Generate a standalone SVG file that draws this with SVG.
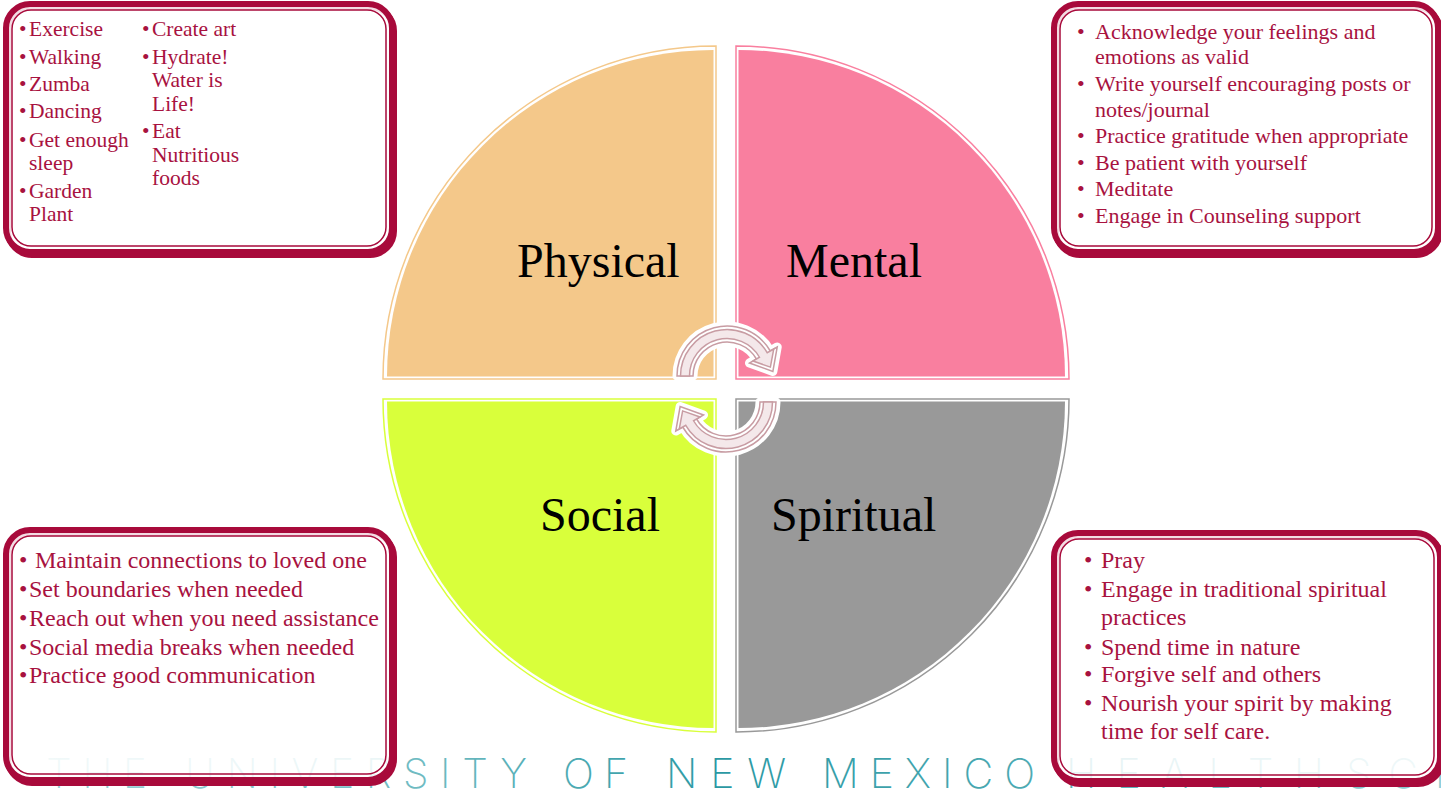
<svg xmlns="http://www.w3.org/2000/svg" width="1441" height="789" viewBox="0 0 1441 789">
<style>
.q-out{fill:none;stroke-width:1.5}
.lbl{font-family:"Liberation Serif","Times New Roman",serif;font-size:48px;fill:#000}
.bx-shadow{fill:none;stroke:#A80A3B;stroke-width:6}
.bx-main{fill:#fff;fill-opacity:0.86;stroke:#A80A3B;stroke-width:6}
.bx-inner{fill:none;stroke:#A80A3B;stroke-width:1.5}
.t{font-family:"Liberation Serif","Times New Roman",serif;fill:#A8123F}
.t21{font-size:21.5px}
.t22{font-size:22px}
.t24{font-size:24px}
.wm{font-family:Inter,Lato,"Open Sans","DejaVu Sans",sans-serif;font-weight:200;font-size:41px;fill:url(#wmg)}
.arr-halo{fill:#fff;stroke:#fff;stroke-width:9;stroke-linejoin:round}
.arr-body{fill:#fff;stroke:#C89CA3;stroke-width:1.5;stroke-linejoin:miter}
.arr-in{fill:#F4E8EA;stroke:#C89CA3;stroke-width:1.5}
</style>
<defs>
<linearGradient id="wmg" gradientUnits="userSpaceOnUse" x1="0" y1="0" x2="1441" y2="0">
<stop offset="0" stop-color="#9FD3D8"/>
<stop offset="0.3" stop-color="#6DBAC1"/>
<stop offset="0.5" stop-color="#2A98A3"/>
<stop offset="0.7" stop-color="#4AA8B1"/>
<stop offset="1" stop-color="#8FCBD0"/>
</linearGradient>
<path id="qo" d="M -1,-1 L -334,-1 A 333 333 0 0 1 -1,-334 Z"/>
<path id="qf" d="M -3.5,-3.5 L -330,-3.5 A 326.5 326.5 0 0 1 -3.5,-330 Z"/>
<path id="arrow" d="M -50,0 A 50 50 0 0 1 43.3,-25 L 50.23,-29 L 45.87,-4.55 L 22.51,-13 L 29.44,-17 A 34 34 0 0 0 -34,0 Z"/>
<path id="arrowin" d="M -46.5,0 A 46.5 46.5 0 0 1 40.27,-23.25 L 46.76,-27 L 43.37,-8.88 L 25.98,-15 L 32.48,-18.75 A 37.5 37.5 0 0 0 -37.5,0 Z"/>
</defs>

<rect width="1441" height="789" fill="#fff"/>

<g id="watermark" class="wm">
<text x="46" y="788" textLength="101" lengthAdjust="spacing">THE</text>
<text x="185" y="788" textLength="342" lengthAdjust="spacing">UNIVERSITY</text>
<text x="563" y="788" textLength="65" lengthAdjust="spacing">OF</text>
<text x="666" y="788" textLength="120" lengthAdjust="spacing">NEW</text>
<text x="822" y="788" textLength="213" lengthAdjust="spacing">MEXICO</text>
<text x="1066" y="788" textLength="258" lengthAdjust="spacing">HEALTH</text>
<text x="1346" y="788" textLength="140" lengthAdjust="spacing">SCIE</text>
</g>

<g id="physical">
<g transform="translate(717,380)">
<use href="#qo" class="q-out" stroke="#F4C88A"/>
<use href="#qf" fill="#F4C88A"/>
</g>
<text class="lbl" x="517" y="277">Physical</text>
</g>

<g id="mental">
<g transform="translate(735,380) scale(-1,1)">
<use href="#qo" class="q-out" stroke="#F97F9F"/>
<use href="#qf" fill="#F97F9F"/>
</g>
<text class="lbl" x="786" y="277">Mental</text>
</g>

<g id="social">
<g transform="translate(717,398) scale(1,-1)">
<use href="#qo" class="q-out" stroke="#D9FF3B"/>
<use href="#qf" fill="#D9FF3B"/>
</g>
<text class="lbl" x="540" y="531">Social</text>
</g>

<g id="spiritual">
<g transform="translate(735,398) scale(-1,-1)">
<use href="#qo" class="q-out" stroke="#999999"/>
<use href="#qf" fill="#999999"/>
</g>
<text class="lbl" x="771" y="531">Spiritual</text>
</g>

<g id="connectors">
<g transform="translate(727,376)">
<use href="#arrow" class="arr-halo"/>
<use href="#arrow" class="arr-body"/>
<use href="#arrowin" class="arr-in"/>
</g>
<g transform="translate(726,402) rotate(180)">
<use href="#arrow" class="arr-halo"/>
<use href="#arrow" class="arr-body"/>
<use href="#arrowin" class="arr-in"/>
</g>
</g>

<g id="box-physical">
<rect class="bx-shadow" x="8" y="7" width="386" height="248" rx="24"/>
<rect class="bx-main" x="6" y="4" width="386" height="248" rx="24"/>
<rect class="bx-inner" x="12" y="10" width="374" height="236" rx="19"/>
<g class="t t21">
<text x="19" y="36">•<tspan x="29">Exercise</tspan></text>
<text x="19" y="64">•<tspan x="29">Walking</tspan></text>
<text x="19" y="91">•<tspan x="29">Zumba</tspan></text>
<text x="19" y="118">•<tspan x="29">Dancing</tspan></text>
<text x="19" y="147">•<tspan x="29">Get enough</tspan></text>
<text x="29" y="170">sleep</text>
<text x="19" y="198">•<tspan x="29">Garden</tspan></text>
<text x="29" y="221">Plant</text>
<text x="142" y="36">•<tspan x="152">Create art</tspan></text>
<text x="142" y="64">•<tspan x="152">Hydrate!</tspan></text>
<text x="152" y="87">Water is</text>
<text x="152" y="111">Life!</text>
<text x="142" y="138">•<tspan x="152">Eat</tspan></text>
<text x="152" y="162">Nutritious</text>
<text x="152" y="185">foods</text>
</g>
</g>

<g id="box-mental">
<rect class="bx-shadow" x="1056" y="7" width="384" height="248" rx="24"/>
<rect class="bx-main" x="1054" y="4" width="384" height="248" rx="24"/>
<rect class="bx-inner" x="1060" y="10" width="372" height="236" rx="19"/>
<g class="t t22">
<text x="1077" y="38.5">•<tspan x="1095">Acknowledge your feelings and</tspan></text>
<text x="1095" y="63.5">emotions as valid</text>
<text x="1077" y="90.5">•<tspan x="1095">Write yourself encouraging posts or</tspan></text>
<text x="1095" y="117">notes/journal</text>
<text x="1077" y="143">•<tspan x="1095">Practice gratitude when appropriate</tspan></text>
<text x="1077" y="170">•<tspan x="1095">Be patient with yourself</tspan></text>
<text x="1077" y="196">•<tspan x="1095">Meditate</tspan></text>
<text x="1077" y="222.5">•<tspan x="1095">Engage in Counseling support</tspan></text>
</g>
</g>

<g id="box-social">
<rect class="bx-shadow" x="8" y="533" width="386" height="250" rx="24"/>
<rect class="bx-main" x="6" y="530" width="386" height="250" rx="24"/>
<rect class="bx-inner" x="12" y="536" width="374" height="238" rx="19"/>
<g class="t t24">
<text x="19" y="568">•<tspan x="35">Maintain connections to loved one</tspan></text>
<text x="19" y="597">•<tspan x="29">Set boundaries when needed</tspan></text>
<text x="19" y="626">•<tspan x="29">Reach out when you need assistance</tspan></text>
<text x="19" y="655">•<tspan x="29">Social media breaks when needed</tspan></text>
<text x="19" y="683">•<tspan x="29">Practice good communication</tspan></text>
</g>
</g>

<g id="box-spiritual">
<rect class="bx-shadow" x="1056" y="536" width="386" height="248" rx="24"/>
<rect class="bx-main" x="1054" y="533" width="386" height="248" rx="24"/>
<rect class="bx-inner" x="1060" y="539" width="374" height="236" rx="19"/>
<g class="t t24">
<text x="1084" y="568">•<tspan x="1101">Pray</tspan></text>
<text x="1084" y="597">•<tspan x="1101">Engage in traditional spiritual</tspan></text>
<text x="1101" y="625">practices</text>
<text x="1084" y="655">•<tspan x="1101">Spend time in nature</tspan></text>
<text x="1084" y="682">•<tspan x="1101">Forgive self and others</tspan></text>
<text x="1084" y="711">•<tspan x="1101">Nourish your spirit by making</tspan></text>
<text x="1101" y="739">time for self care.</text>
</g>
</g>
</svg>
